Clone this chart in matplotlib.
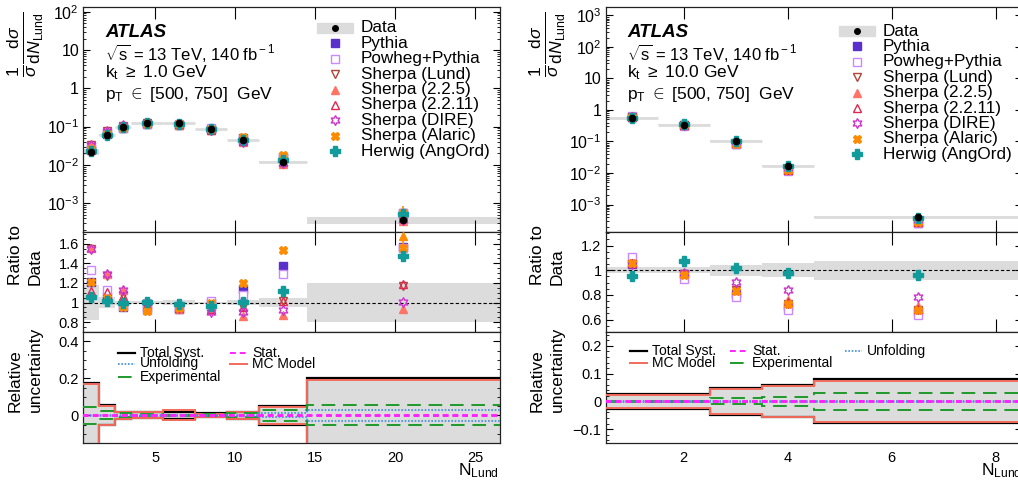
import numpy as np
import matplotlib
matplotlib.use("Agg")
import matplotlib.pyplot as plt
from matplotlib.lines import Line2D
from matplotlib.ticker import FixedLocator, FuncFormatter, MultipleLocator

plt.rcParams['font.family'] = ['Liberation Sans', 'DejaVu Sans']
plt.rcParams['mathtext.fontset'] = 'custom'
plt.rcParams['mathtext.rm'] = 'Liberation Sans'
plt.rcParams['mathtext.it'] = 'Liberation Sans:italic'
plt.rcParams['mathtext.bf'] = 'Liberation Sans:bold'

# ---------------- data: left (kt >= 1 GeV) ----------------
L_edges = [0.5, 1.5, 2.5, 3.5, 5.5, 7.5, 9.5, 11.5, 14.5, 26.5]
L_data = [0.022, 0.060, 0.097, 0.126, 0.122, 0.088, 0.045, 0.012, 3.6e-4]
L_tot = [0.18, 0.054, 0.02, 0.016, 0.022, 0.01, 0.022, 0.05, 0.20]
L_ratio = {
    'Pythia':          [1.21, 1.055, 0.95, 0.94, 0.93, 1.00, 1.14, 1.375, 1.57],
    'Powheg+Pythia':   [1.335, 1.13, 0.97, 0.92, 0.94, 1.02, 1.08, 1.29, 1.56],
    'Sherpa (Lund)':   [1.55, 1.27, 1.08, 0.97, 0.93, 0.93, 0.96, 1.02, 1.17],
    'Sherpa (2.2.5)':  [1.56, 1.29, 1.13, 0.96, 0.93, 0.92, 0.86, 0.87, 0.93],
    'Sherpa (2.2.11)': [1.12, 1.105, 1.07, 0.98, 0.94, 0.93, 0.96, 1.02, 1.19],
    'Sherpa (DIRE)':   [1.55, 1.29, 1.13, 1.01, 0.94, 0.90, 0.90, 0.92, 1.01],
    'Sherpa (Alaric)': [1.21, 1.05, 0.95, 0.91, 0.94, 1.00, 1.20, 1.54, 1.56],
    'Herwig (AngOrd)': [1.055, 1.02, 1.00, 1.01, 0.985, 0.97, 1.01, 1.12, 1.48],
}
# upper MC-statistical error on the ratio (only visible one: Alaric, last bin)
L_err_up = {'Sherpa (Alaric)': [0, 0, 0, 0, 0, 0, 0, 0, 0.85]}
L_unc_tot = [0.176, 0.054, 0.02, 0.015, 0.018, 0.01, 0.02, 0.05, 0.20]
L_unc_mc = [0.168, 0.05, 0.018, 0.017, 0.026, 0.008, 0.018, 0.047, 0.192]
L_unc_exp = [0.046, 0.022, 0.01, 0.005, 0.004, 0.005, 0.01, 0.031, 0.055]
L_unc_unf = [0.004, 0.004, 0.003, 0.003, 0.003, 0.003, 0.004, 0.01, 0.03]
L_unc_stat = [0.002, 0.002, 0.002, 0.002, 0.002, 0.002, 0.002, 0.003, 0.003]

# ---------------- data: right (kt >= 10 GeV) ----------------
R_edges = [0.5, 1.5, 2.5, 3.5, 4.5, 8.5]
R_data = [0.57, 0.34, 0.104, 0.017, 4.0e-4]
R_tot = [0.025, 0.025, 0.045, 0.055, 0.077]
R_ratio = {
    'Pythia':          [1.05, 0.97, 0.81, 0.71, 0.67],
    'Powheg+Pythia':   [1.107, 0.93, 0.78, 0.68, 0.64],
    'Sherpa (Lund)':   [1.05, 0.97, 0.84, 0.73, 0.68],
    'Sherpa (2.2.5)':  [1.06, 0.975, 0.85, 0.76, 0.71],
    'Sherpa (2.2.11)': [1.055, 0.98, 0.84, 0.74, 0.69],
    'Sherpa (DIRE)':   [1.05, 0.98, 0.907, 0.84, 0.785],
    'Sherpa (Alaric)': [1.06, 0.96, 0.83, 0.73, 0.68],
    'Herwig (AngOrd)': [0.955, 1.075, 1.02, 0.98, 0.96],
}
R_err_up = {}
R_unc_tot = [0.027, 0.027, 0.049, 0.058, 0.079]
R_unc_mc = [0.024, 0.024, 0.046, 0.055, 0.073]
R_unc_exp = [0.002, 0.002, 0.011, 0.017, 0.031]
R_unc_unf = [0.001, 0.001, 0.001, 0.001, 0.001]
R_unc_stat = [0.001, 0.001, 0.001, 0.001, 0.001]

# ---------------- styles ----------------
hexverts = []
for k in range(12):
    ang = np.pi / 2 + k * np.pi / 6
    r = 1.0 if k % 2 == 0 else 0.55
    hexverts.append((r * np.cos(ang), r * np.sin(ang)))
hexverts.append(hexverts[0])

styles = {
    'Pythia':          dict(marker='s', color='#5a30cc', mfc='#5a30cc', ms=5.2),
    'Powheg+Pythia':   dict(marker='s', color='#cc88ff', mfc='white', ms=6.3),
    'Sherpa (Lund)':   dict(marker='v', color='#b04438', mfc='none', ms=6.2),
    'Sherpa (2.2.5)':  dict(marker='^', color='#ff7466', mfc='#ff7466', ms=6.2),
    'Sherpa (2.2.11)': dict(marker='^', color='#e02850', mfc='none', ms=6.2),
    'Sherpa (DIRE)':   dict(marker=hexverts, color='#cc33cc', mfc='none', ms=7),
    'Sherpa (Alaric)': dict(marker='X', color='#ff8c00', mfc='#ff8c00', ms=5.2),
    'Herwig (AngOrd)': dict(marker='P', color='#119b9b', mfc='#119b9b', ms=6.5),
}
GRAY = '#dcdcdc'

W, H = 1018, 484
fig = plt.figure(figsize=(W / 100, H / 100), dpi=100)


def fx(px):
    return px / W


def fy(py):
    return 1 - py / H


def make_axes(x0px, x1px):
    axs = []
    for (t, b) in [(7, 232), (232, 332), (332, 443)]:
        axs.append(fig.add_axes([fx(x0px), fy(b), fx(x1px - x0px), (b - t) / H]))
    return axs


def log_fmt(v, pos):
    e = int(round(np.log10(v)))
    if e == 0:
        return '1'
    if e == 1:
        return '10'
    return r'$10^{%d}$' % e


def style_ax(ax, xlen=8.5, ylen=4.5):
    ax.tick_params(which='both', direction='in', top=True, right=True, labelsize=10.5, pad=3)
    ax.tick_params(axis='x', which='major', length=xlen, width=0.8)
    ax.tick_params(axis='y', which='major', length=ylen, width=0.8)
    ax.tick_params(axis='y', which='minor', length=ylen * 0.5, width=0.6)
    ax.tick_params(axis='x', which='minor', length=0)
    for s in ax.spines.values():
        s.set_linewidth(0.9)
        s.set_color('#222222')


def draw_panel(x0px, x1px, edges, data, tot, ratio, err_up, unc, xlim, ylim_top, ylim_ratio, ylim_unc,
               rticks, runc_major, runc_minor, xmajor, text_lines, leg_x, leg_marker_x, leg_y0,
               unc_leg, ylab_x):
    edges = np.array(edges)
    data = np.array(data)
    tot = np.array(tot)
    centers = 0.5 * (edges[:-1] + edges[1:])
    axT, axR, axU = make_axes(x0px, x1px)

    # ---- top ----
    axT.set_yscale('log')
    axT.stairs(data * (1 + tot), edges, baseline=data * (1 - tot), fill=True, color=GRAY, zorder=1)
    axT.hlines(data, edges[:-1], edges[1:], color=GRAY, lw=2, zorder=1)
    for name, r in ratio.items():
        st = styles[name]
        r = np.array(r)
        if name in err_up:
            eu = np.array(err_up[name])
            m = eu > 0
            axT.vlines(centers[m], (data * r)[m], (data * (r + eu))[m], color=st['color'], lw=1.2, zorder=3)
        axT.plot(centers, data * r, ls='none', marker=st['marker'], ms=st['ms'],
                 mec=st['color'], mfc=st['mfc'], mew=1.0, zorder=3)
    axT.plot(centers, data, 'o', color='black', ms=4.5, zorder=5)
    axT.set_xlim(*xlim)
    axT.set_ylim(*ylim_top)
    axT.yaxis.set_major_formatter(FuncFormatter(log_fmt))
    axT.xaxis.set_major_locator(MultipleLocator(xmajor))
    axT.tick_params(axis='x', labelbottom=False)
    style_ax(axT, xlen=8.5, ylen=5)
    axT.tick_params(axis='y', labelsize=11.5)

    # text block
    tx = fx(text_lines[0])
    fig.text(tx, fy(33), 'ATLAS', fontsize=13.5, fontweight='bold', fontstyle='italic', va='center')
    fig.text(tx, fy(53), r'$\sqrt{\rm s}$ = 13 TeV, 140 fb$^{\rm -1}$', fontsize=12, va='center')
    fig.text(tx, fy(73), r'k$_{\rm t}$ $\geq$ ' + text_lines[1] + ' GeV', fontsize=12.5, va='center')
    fig.text(tx, fy(94), r'p$_{\rm T}$ $\in$ [500, 750]  GeV', fontsize=12.5, va='center')

    # legend (manual)
    labels = ['Data'] + list(ratio.keys())
    for i, lab in enumerate(labels):
        yy = leg_y0 + i * 15.4
        fig.text(fx(leg_x), fy(yy), lab, fontsize=12.3, va='center')
        if lab == 'Data':
            fig.patches.append(plt.Rectangle((fx(leg_marker_x - 18), fy(yy + 5)), fx(36), 10 / H,
                                             color=GRAY, transform=fig.transFigure, figure=fig))
            fig.add_artist(Line2D([fx(leg_marker_x)], [fy(yy)], marker='o', color='black', ms=4,
                                  transform=fig.transFigure))
        else:
            st = styles[lab]
            fig.add_artist(Line2D([fx(leg_marker_x)], [fy(yy)], marker=st['marker'], ms=st['ms'],
                                  mec=st['color'], mfc=st['mfc'], mew=1.0, ls='none',
                                  transform=fig.transFigure))

    # ---- ratio ----
    axR.stairs(1 + tot, edges, baseline=1 - tot, fill=True, color=GRAY, zorder=1)
    axR.axhline(1.0, color='black', lw=0.8, ls=(0, (3, 2)), zorder=2)
    ylo, yhi = ylim_ratio
    ytip = yhi - 0.04 * (yhi - ylo)
    for name, r in ratio.items():
        st = styles[name]
        r = np.array(r)
        if name in err_up:
            eu = np.array(err_up[name])
            for c, rv, e in zip(centers, r, eu):
                if e > 0:
                    top = min(rv + e, ytip)
                    axR.plot([c, c], [rv, top], color=st['color'], lw=1.2, zorder=3)
                    if rv + e > yhi:
                        axR.plot([c], [top], marker='^', color=st['color'], ms=6, zorder=3)
        axR.plot(centers, r, ls='none', marker=st['marker'], ms=st['ms'],
                 mec=st['color'], mfc=st['mfc'], mew=1.0, zorder=3)
    axR.set_xlim(*xlim)
    axR.set_ylim(*ylim_ratio)
    axR.yaxis.set_major_locator(FixedLocator(rticks))
    axR.yaxis.set_minor_locator(MultipleLocator(0.05))
    axR.yaxis.set_major_formatter(FuncFormatter(lambda v, p: ('%g' % v)))
    axR.xaxis.set_major_locator(MultipleLocator(xmajor))
    axR.tick_params(axis='x', labelbottom=False)
    style_ax(axR, xlen=9.5, ylen=5)

    # ---- uncertainty ----
    u_tot, u_mc, u_exp, u_unf, u_stat = [np.array(u) for u in unc]
    axU.stairs(u_tot, edges, baseline=-u_tot, fill=True, color=GRAY, zorder=1)
    for sgn in (1, -1):
        axU.stairs(sgn * u_tot, edges, baseline=None, color='black', lw=1.6, zorder=2)
        axU.stairs(sgn * u_mc, edges, baseline=None, color='#f26a5a', lw=1.4, zorder=3)
        axU.stairs(sgn * u_exp, edges, baseline=None, color='#1f9a2a', lw=1.4, ls=(0, (7, 4)), zorder=4)
        axU.stairs(sgn * u_unf, edges, baseline=None, color='#3f8fd8', lw=1.2, ls=(0, (1, 1)), zorder=5)
        axU.stairs(sgn * u_stat, edges, baseline=None, color='#ff22ff', lw=1.4, ls=(0, (3, 2)), zorder=6)
    axU.set_xlim(*xlim)
    axU.set_ylim(*ylim_unc)
    axU.yaxis.set_major_locator(MultipleLocator(runc_major))
    axU.yaxis.set_minor_locator(MultipleLocator(runc_minor))
    axU.yaxis.set_major_formatter(FuncFormatter(lambda v, p: ('%g' % round(v, 3)).replace('-', '\u2212')))
    axU.xaxis.set_major_locator(MultipleLocator(xmajor))
    style_ax(axU, xlen=0, ylen=5)
    axU.tick_params(axis='x', pad=6)

    # uncertainty legend
    umap = {'Total Syst.': dict(color='black', lw=1.6, ls='-'),
            'MC Model': dict(color='#f26a5a', lw=1.4, ls='-'),
            'Experimental': dict(color='#1f9a2a', lw=1.4, ls=(0, (7, 4))),
            'Unfolding': dict(color='#3f8fd8', lw=1.2, ls=(0, (1, 1))),
            'Stat.': dict(color='#ff22ff', lw=1.4, ls=(0, (3, 2)))}
    for lab, lx, ly in unc_leg:
        st = umap[lab]
        fig.add_artist(Line2D([fx(lx), fx(lx + 17)], [fy(ly), fy(ly)], transform=fig.transFigure, **st))
        fig.text(fx(lx + 22), fy(ly), lab, fontsize=10, va='center')

    # axis labels
    fig.text(fx(ylab_x), fy(11), r'$\frac{1}{\sigma}\frac{\mathrm{d}\sigma}{\mathrm{d}N_{\mathrm{Lund}}}$',
             rotation=90, fontsize=18, ha='center', va='top')
    fig.text(fx(ylab_x - 10), fy(285), 'Ratio to', rotation=90, fontsize=12.5, ha='center', va='bottom')
    fig.text(fx(ylab_x + 10), fy(285), 'Data', rotation=90, fontsize=12.5, ha='center', va='bottom')
    fig.text(fx(ylab_x - 10), fy(412), 'Relative', rotation=90, fontsize=12.5, ha='center', va='bottom')
    fig.text(fx(ylab_x + 10), fy(412), 'uncertainty', rotation=90, fontsize=12.5, ha='center', va='bottom')
    fig.text(fx(x1px), fy(475), r'N$_{\rm Lund}$', ha='right', va='baseline', fontsize=12.5)


draw_panel(83.2, 499.5, L_edges, L_data, L_tot, L_ratio, L_err_up,
           [L_unc_tot, L_unc_mc, L_unc_exp, L_unc_unf, L_unc_stat],
           xlim=(0.5, 26.5), ylim_top=(1.77e-4, 133), ylim_ratio=(0.70, 1.72), ylim_unc=(-0.15, 0.45),
           rticks=[0.8, 1.0, 1.2, 1.4, 1.6], runc_major=0.2, runc_minor=0.05, xmajor=5,
           text_lines=[105, '1.0'], leg_x=361, leg_marker_x=335, leg_y0=28,
           unc_leg=[('Total Syst.', 118, 352.7), ('Unfolding', 118, 363.5), ('Experimental', 118, 376.5),
                    ('Stat.', 230, 352.7), ('MC Model', 230, 363.5)],
           ylab_x=25)

draw_panel(605.7, 1021.7, R_edges, R_data, R_tot, R_ratio, R_err_up,
           [R_unc_tot, R_unc_mc, R_unc_exp, R_unc_unf, R_unc_stat],
           xlim=(0.5, 8.5), ylim_top=(1.34e-4, 1860), ylim_ratio=(0.50, 1.31), ylim_unc=(-0.15, 0.25),
           rticks=[0.6, 0.8, 1.0, 1.2], runc_major=0.1, runc_minor=0.02, xmajor=2,
           text_lines=[627, '10.0'], leg_x=883, leg_marker_x=857, leg_y0=31,
           unc_leg=[('Total Syst.', 630, 350.7), ('MC Model', 630, 363.3), ('Stat.', 730, 350.7),
                    ('Experimental', 730, 363.3), ('Unfolding', 845, 350.7)],
           ylab_x=547)

fig.savefig('out.png', dpi=100)
